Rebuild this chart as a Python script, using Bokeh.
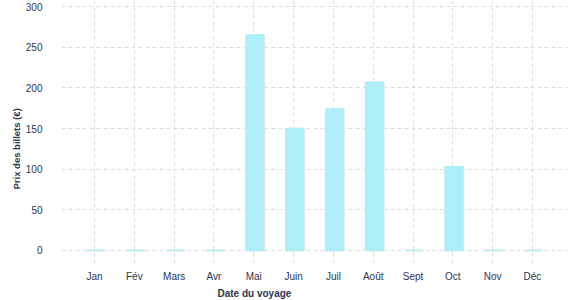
from bokeh.plotting import figure
from bokeh.models import Range1d, FixedTicker, Title, ColumnDataSource
from bokeh.embed import file_html
from bokeh.resources import INLINE

months = ["Jan", "Fév", "Mars", "Avr", "Mai", "Juin", "Juil", "Août", "Sept", "Oct", "Nov", "Déc"]
prices = [0, 0, 0, 0, 265, 150, 174, 207, 0, 103, 0, 0]
y_ticks = [0, 50, 100, 150, 200, 250, 300]

idx = list(range(len(months)))
src = ColumnDataSource(dict(x=[i + 0.02 for i in idx], xs=[i + 0.05 for i in idx], top=prices))

TXT = "#2b3550"
FONT = "Liberation Sans"

p = figure(width=577, height=300, output_backend="svg", toolbar_location=None,
           x_range=Range1d(-0.83, 11.88), y_range=Range1d(-16, 307.5),
           min_border_left=61, min_border_right=10, min_border_top=0, min_border_bottom=37)
p.outline_line_color = None
p.background_fill_color = "white"
p.border_fill_color = "white"

# shadow
p.vbar(x="xs", top="top", bottom=0, width=0.43, source=src,
       fill_color="#e2e2e2", line_color="#e2e2e2", line_width=1.5)
p.vbar(x="x", top="top", bottom=0, width=0.43, source=src,
       fill_color="#aeeef8", line_color="#aeeef8", line_width=1.6)

p.xaxis.ticker = FixedTicker(ticks=idx)
p.xaxis.major_label_overrides = {i: m for i, m in zip(idx, months)}
p.yaxis.ticker = FixedTicker(ticks=y_ticks)

for ax in (p.xaxis, p.yaxis):
    ax.axis_line_color = None
    ax.major_tick_line_color = None
    ax.minor_tick_line_color = None
    ax.major_tick_out = 0
    ax.major_tick_in = 0
    ax.minor_tick_out = 0
    ax.minor_tick_in = 0
    ax.major_label_text_font = FONT
    ax.major_label_text_font_size = "10px"
    ax.major_label_text_color = TXT
p.xaxis.major_label_standoff = 7
p.yaxis.major_label_standoff = 19

for g in (p.xgrid, p.ygrid):
    g.grid_line_color = "#dcdcdc"
    g.grid_line_dash = "4 3"
    g.grid_line_width = 1
p.xgrid.ticker = FixedTicker(ticks=idx)
p.ygrid.ticker = FixedTicker(ticks=y_ticks)

p.add_layout(Title(text="Date du voyage", align="left", offset=156, standoff=2,
                   text_font=FONT, text_font_style="bold", text_font_size="10px",
                   text_color=TXT), "below")
p.add_layout(Title(text="Prix des billets (€)", align="left", offset=74, standoff=2,
                   text_font=FONT, text_font_style="bold", text_font_size="9.5px",
                   text_color=TXT), "left")

open("out.html", "w").write(file_html(p, INLINE))
